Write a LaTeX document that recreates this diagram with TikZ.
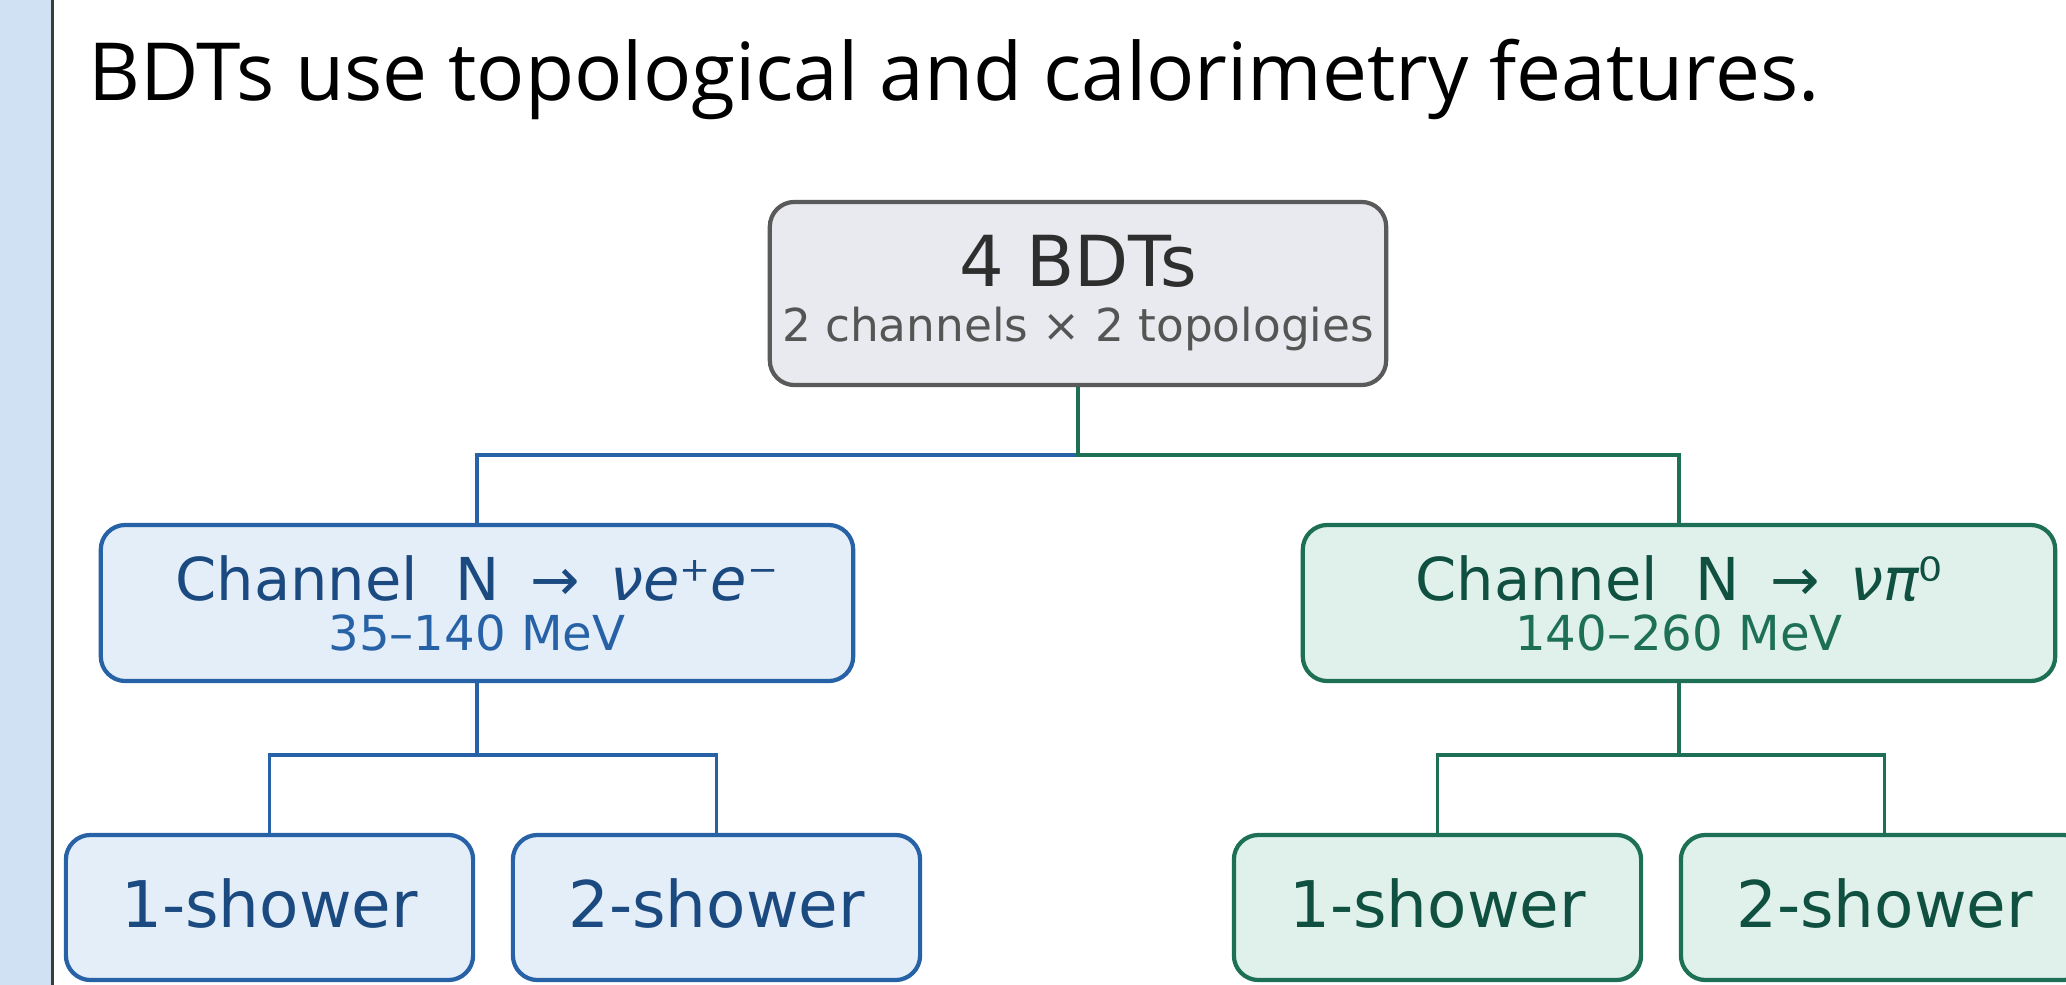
\documentclass[tikz,border=0pt]{standalone}
\usepackage{fontspec}
\setmainfont{DejaVu Sans}
\newfontfamily\headfont{Open Sans}

\definecolor{stripblue}{HTML}{CFE1F2}
\definecolor{stripedge}{HTML}{3C3C3C}
\definecolor{topfill}{HTML}{E8EAEF}
\definecolor{topline}{HTML}{5A5A5A}
\definecolor{topink}{HTML}{2E2E2E}
\definecolor{subink}{HTML}{555555}
\definecolor{bline}{HTML}{2862A6}
\definecolor{bfill}{HTML}{E4EEF9}
\definecolor{bink}{HTML}{1B4A80}
\definecolor{gline}{HTML}{1D6F56}
\definecolor{gfill}{HTML}{E0F1EB}
\definecolor{gink}{HTML}{0F5040}

\newcommand{\decayto}{\ \hspace{0.2em}→\hspace{0.2em}\ }

\tikzset{
    box/.style={draw, rounded corners=7pt, line width=1.2pt, inner sep=0pt, align=center},
    topbox/.style={box, draw=topline, fill=topfill, text=topink,
        minimum width=6.16cm, minimum height=1.83cm,
        font=\fontsize{12.9}{15.65}\selectfont},
    bluebox/.style={box, draw=bline, fill=bfill, text=bink},
    greenbox/.style={box, draw=gline, fill=gfill, text=gink},
    chanbox/.style={minimum width=7.52cm, minimum height=1.56cm,
        font=\fontsize{16.8}{14.2}\selectfont},
    leafbox/.style={minimum width=4.07cm, minimum height=1.45cm, text depth=2.6pt,
        font=\fontsize{18.3}{20}\selectfont},
    bluelink/.style={draw=bline, line width=0.95pt},
    greenlink/.style={draw=gline, line width=0.95pt}
}

\begin{document}
\begin{tikzpicture}[x=0.01cm, y=-0.01cm]
    % the frame
    \useasboundingbox (0,0) rectangle (2066,985);
    \path[clip] (0,0) rectangle (2066,985);
    % the side strip
    \fill[stripblue] (0,0) rectangle (51,985);
    \draw[stripedge, line width=0.7pt] (52.5,0) -- (52.5,985);

    % headline
    \node[anchor=base west, inner sep=0pt, font=\headfont\fontsize{22.8}{27}\selectfont]
        (headline) at (88,101) {BDTs use topological and calorimetry features.};

    % the tree
    \node[topbox] (bdts) at (1078,293.5)
        {{\fontsize{20}{15.65}\selectfont 4 BDTs}\\{\color{subink}2 channels × 2 topologies}};

    \node[bluebox, chanbox] (nee) at (477,603)
        {Channel\ \ N\decayto{\itshape νe}⁺{\itshape e}⁻\\{\fontsize{13.7}{14.2}\selectfont\color{bline}35–140 MeV}};
    \node[greenbox, chanbox] (npi) at (1679,603)
        {Channel\ \ N\decayto{\itshape νπ}⁰\\{\fontsize{13.7}{14.2}\selectfont\color{gline}140–260 MeV}};

    \node[bluebox, leafbox] (bone) at (269.5,907.5) {1-shower};
    \node[bluebox, leafbox] (btwo) at (716.5,907.5) {2-shower};
    \node[greenbox, leafbox] (gone) at (1437.5,907.5) {1-shower};
    \node[greenbox, leafbox] (gtwo) at (1884.5,907.5) {2-shower};

    % links
    \coordinate (split) at (1078,455);
    \coordinate (bsplit) at (477,755);
    \coordinate (gsplit) at (1679,755);

    \draw[bluelink] (split) -| (nee.north);
    \draw[greenlink] (bdts.south) -- (split) -| (npi.north);

    \draw[bluelink] (nee.south) -- (bsplit) -| (btwo.north);
    \draw[bluelink] (bsplit) -| (bone.north);
    \draw[greenlink] (npi.south) -- (gsplit) -| (gtwo.north);
    \draw[greenlink] (gsplit) -| (gone.north);
\end{tikzpicture}
\end{document}
